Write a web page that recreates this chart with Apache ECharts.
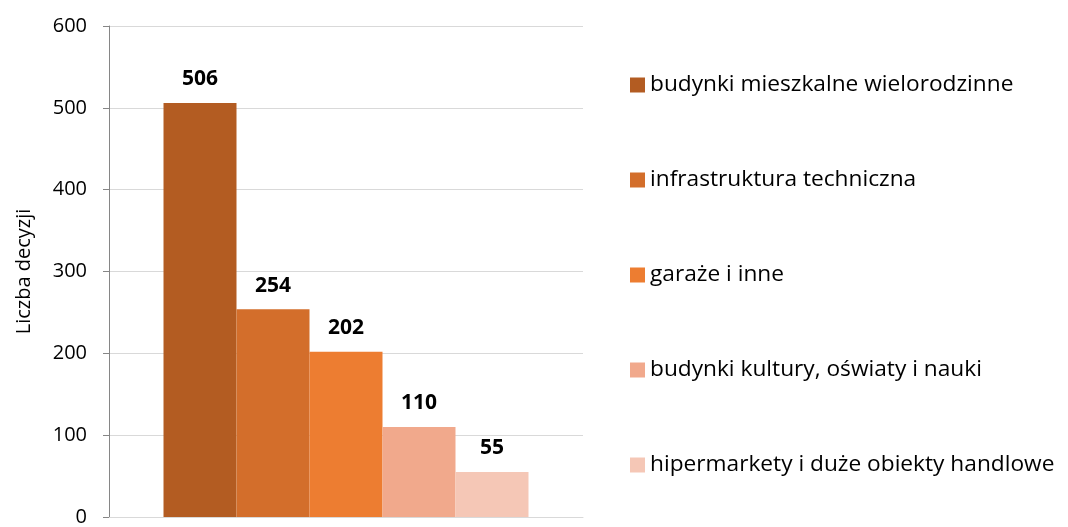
<!DOCTYPE html>
<html><head><meta charset="utf-8">
<script src="https://cdn.jsdelivr.net/npm/echarts@6/dist/echarts.min.js"></script>
<style>html,body{margin:0;padding:0;background:#fff}#c{width:1068px;height:527px}</style>
</head><body><div id="c"></div>
<script>
const categories = ['budynki mieszkalne wielorodzinne','infrastruktura techniczna','garaże i inne','budynki kultury, oświaty i nauki','hipermarkety i duże obiekty handlowe'];
const values = [506, 254, 202, 110, 55];
const colors = ['#B35C22','#D36E2B','#ED7D31','#F1A98C','#F5C7B6'];
const yTicks = [0,100,200,300,400,500,600];
const font = 'Open Sans, Noto Sans, sans-serif';
const chart = echarts.init(document.getElementById('c'));
chart.setOption({
  animation:false,
  grid:{left:109, right:485, top:26, bottom:5, containLabel:false},
  legend:{orient:'vertical', left:625, top:67, itemWidth:15, itemHeight:15, itemGap:69, icon:'rect',
    textStyle:{fontFamily:font, fontSize:22.7, color:'#000', lineHeight:26}, data:categories},
  xAxis:{type:'category', data:[''], axisLine:{lineStyle:{color:'#D9D9D9'}}, axisTick:{show:false}, axisLabel:{show:false}},
  yAxis:{type:'value', min:yTicks[0], max:yTicks[yTicks.length-1], interval:100,
    name:'Liczba decyzji', nameLocation:'middle', nameGap:75, nameRotate:90,
    nameTextStyle:{fontFamily:font, fontSize:20, color:'#000'},
    axisLine:{show:true, lineStyle:{color:'#868686'}}, axisTick:{show:true, length:6, lineStyle:{color:'#868686'}},
    axisLabel:{fontFamily:font, fontSize:20, color:'#000', margin:22},
    splitLine:{lineStyle:{color:'#D9D9D9'}}},
  series: categories.map((n,i)=>({name:n, type:'bar', data:[values[i]], barGap:'0%', barCategoryGap:'23%',
    itemStyle:{color:colors[i]},
    label:{show:true, position:'top', distance:13, fontFamily:font, fontWeight:'bold', fontSize:21, color:'#000'}}))
});
</script></body></html>
